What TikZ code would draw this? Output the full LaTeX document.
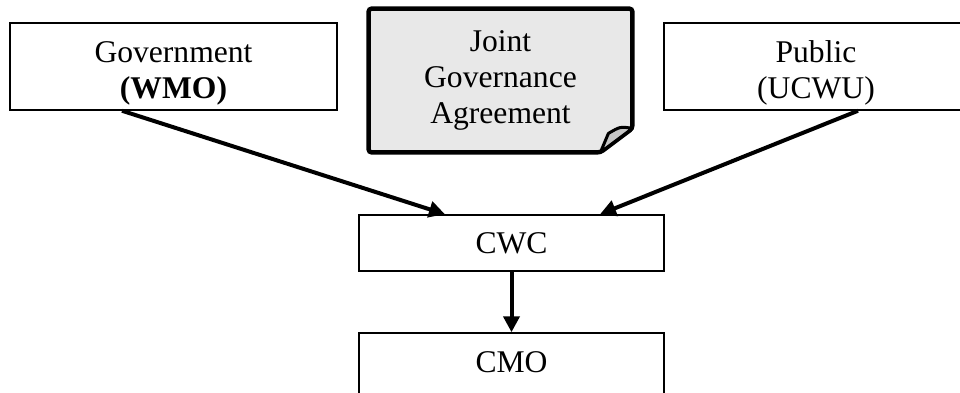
\documentclass[tikz,border=0pt]{standalone}
\usepackage{fontspec}
\setmainfont{Liberation Serif}
\usetikzlibrary{arrows.meta,backgrounds,calc}
\tikzset{
  box/.style={draw, line width=0.75pt, inner sep=0pt},
  lbl/.style={align=center, font=\fontsize{15.8}{18}\selectfont},
  flow/.style={line width=2pt, -{Triangle[length=8pt,width=8pt]}}
}

\begin{document}
\begin{tikzpicture}[x=0.5pt,y=-0.5pt]
\useasboundingbox (0,0) rectangle (960,392);
\clip (0,0) rectangle (960,392);
% top row
\node[box, minimum width=163.5pt, minimum height=43.5pt] (gov) at (173.5,66.5) {};
\node[lbl] (govtext) at (173.5,73) {Government\\\textbf{(WMO)}};
\node[box, minimum width=152pt, minimum height=43.5pt] (pub) at (816,66.5) {};
\node[lbl] (pubtext) at (816,73) {Public\\(UCWU)};
\node[lbl, minimum width=131.5pt, minimum height=71.5pt, inner sep=0pt] (jga) at (500.5,80.5) {Joint\\Governance\\Agreement};
\begin{scope}[on background layer]
\draw[line width=2.2pt, fill=gray!18, rounded corners=1.5pt] (jga.north west) -- (jga.north east)
  -- ($(jga.south east)+(0,-24)$) -- ($(jga.south east)+(-32,0)$) -- (jga.south west) -- cycle;
\draw[line width=1.5pt, fill=gray!45, line join=round] ($(jga.south east)+(-32,0)$)
  -- ($(jga.south east)+(-24,-19)$) .. controls ($(jga.south east)+(-12,-26)$) .. ($(jga.south east)+(0,-24)$) -- cycle;
\end{scope}
% lower boxes
\node[box, lbl, minimum width=152.5pt, minimum height=28pt] (cwc) at (511.5,243) {CWC};
\node[box, minimum width=152.5pt, minimum height=35pt] (cmo) at (511.5,368) {};
\node[lbl] (cmotext) at (511.5,362.5) {CMO};
% arrows
\draw[flow] ($(gov.south)+(-51.5,0)$) -- ($(cwc.north)+(-66.5,0)$);
\draw[flow] ($(pub.south)+(42,0)$) -- ($(cwc.north)+(88.5,0)$);
\draw[flow] (cwc.south) -- (cmo.north);
\end{tikzpicture}
\end{document}
